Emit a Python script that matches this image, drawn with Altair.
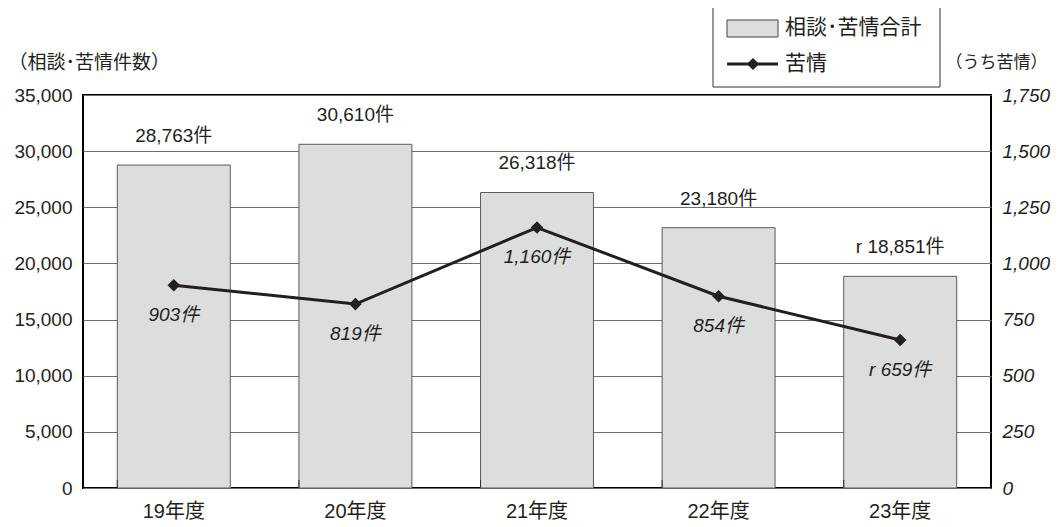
import altair as alt
import pandas as pd

years = ["19年度", "20年度", "21年度", "22年度", "23年度"]
total = [28763, 30610, 26318, 23180, 18851]
total_labels = ["28,763件", "30,610件", "26,318件", "23,180件", "r 18,851件"]
complaints = [903, 819, 1160, 854, 659]
complaint_labels = ["903件", "819件", "1,160件", "854件", "r 659件"]
legend_names = ["相談･苦情合計", "苦情"]

df = pd.DataFrame({
    "year": years,
    "total": total,
    "total_label": total_labels,
    "complaints": complaints,
    "complaint_label": complaint_labels,
})

FONT = "'Liberation Sans', 'Noto Sans CJK JP', sans-serif"
TXT = "#231f20"
BAR = "#dcdedd"

W, H = 908, 393

x_axis = alt.Axis(title=None, labelAngle=0, labelFontSize=20, labelPadding=13,
                  ticks=False, domain=False, labelFont=FONT, labelColor=TXT)
x = alt.X("year:N", sort=None,
          scale=alt.Scale(paddingInner=0.378, paddingOuter=0.189), axis=x_axis)

base = alt.Chart(df)

y_left = alt.Y(
    "total:Q",
    scale=alt.Scale(domain=[0, 35000], nice=False),
    axis=alt.Axis(values=list(range(0, 35001, 5000)), format=",d",
                  title="（相談･苦情件数）", titleAngle=0, titleX=-75, titleY=-33,
                  titleAlign="left", titleBaseline="middle", titleFontSize=19,
                  titleFontWeight="normal", grid=True, gridColor="#6e6e6e",
                  gridWidth=1, ticks=False, domain=False, labelPadding=11,
                  labelFontSize=19),
)

bars = base.mark_bar(fill=BAR, stroke="#5a5a5a", strokeWidth=1).encode(x=x, y=y_left)
bar_text = base.mark_text(dy=-29, fontSize=19, color=TXT, font=FONT).encode(
    x=x, y="total:Q", text="total_label:N")

xticks = base.mark_rule(color="#333333", strokeWidth=1).encode(
    x=alt.X("year:N", sort=None, bandPosition=0, axis=x_axis),
    y=alt.value(H - 8), y2=alt.value(H))

leg = alt.Chart(pd.DataFrame({"name": legend_names[:1]}))
leg2 = alt.Chart(pd.DataFrame({"name": legend_names[1:]}))
leg_box = leg.mark_rect(fill="white", stroke="#333333", strokeWidth=1).encode(
    x=alt.value(630), x2=alt.value(857), y=alt.value(-92), y2=alt.value(-8))
leg_sw = leg.mark_rect(fill=BAR, stroke="#444444", strokeWidth=1).encode(
    x=alt.value(644), x2=alt.value(695), y=alt.value(-75), y2=alt.value(-58))
leg_t1 = leg.mark_text(align="left", baseline="middle", fontSize=21, font=FONT,
                       color=TXT).encode(x=alt.value(702), y=alt.value(-67), text="name:N")
leg_line = leg2.mark_rule(color=TXT, strokeWidth=3).encode(
    x=alt.value(644), x2=alt.value(695), y=alt.value(-31))
leg_pt = leg2.mark_point(shape="diamond", filled=True, size=150, color=TXT, opacity=1).encode(
    x=alt.value(670), y=alt.value(-31))
leg_t2 = leg2.mark_text(align="left", baseline="middle", fontSize=21, font=FONT,
                        color=TXT).encode(x=alt.value(702), y=alt.value(-31), text="name:N")

y_right = alt.Y(
    "complaints:Q",
    scale=alt.Scale(domain=[0, 1750], nice=False),
    axis=alt.Axis(orient="right", values=list(range(0, 1751, 250)), format=",d",
                  title="（うち苦情）", titleAngle=0, titleX=-46, titleY=-33,
                  titleAlign="left", titleBaseline="middle", titleFontSize=17,
                  titleFontWeight="normal", grid=False, ticks=False, domain=False,
                  labelPadding=11, labelFontSize=19, labelFontStyle="italic"),
)

line = base.mark_line(color=TXT, strokeWidth=3).encode(x=x, y=y_right)
pts = base.mark_point(shape="diamond", filled=True, size=160, color=TXT, opacity=1).encode(
    x=x, y="complaints:Q")
line_text = base.mark_text(dy=30, fontSize=19, fontStyle="italic", color=TXT, font=FONT).encode(
    x=x, y="complaints:Q", text="complaint_label:N")

left = alt.layer(bars, bar_text, xticks, leg_box, leg_sw, leg_t1, leg_line, leg_pt, leg_t2)
right = alt.layer(line, pts, line_text)

chart = alt.layer(left, right).resolve_scale(y="independent").properties(
    width=W, height=H,
    autosize=alt.AutoSizeParams(type="none"),
    padding={"left": 75, "top": 87, "right": 63, "bottom": 38},
).configure_view(stroke="black", strokeWidth=2).configure_axis(
    labelFont=FONT, titleFont=FONT, labelColor=TXT, titleColor=TXT)

chart.save("out.html", embed_options={"renderer": "svg", "actions": False})
